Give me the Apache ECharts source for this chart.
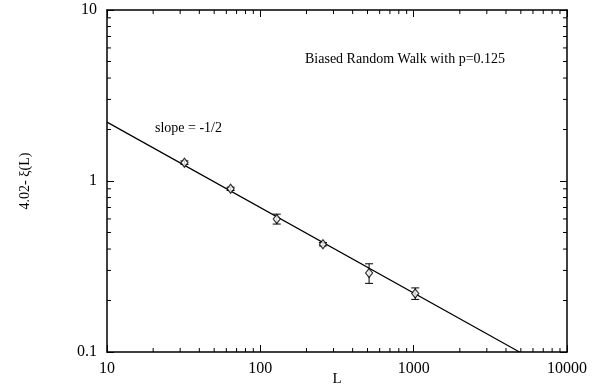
<!DOCTYPE html>
<html><head><meta charset="utf-8">
<script src="https://cdn.jsdelivr.net/npm/echarts@6/dist/echarts.min.js"></script>
<style>html,body{margin:0;padding:0;background:#fff}#c{width:599px;height:391px}</style>
</head><body><div id="c"></div>
<script>
const sizes = [32, 64, 128, 256, 512, 1024];
const values = [1.28, 0.90, 0.60, 0.427, 0.29, 0.22];
const errors = [0.03, 0.02, 0.04, 0.01, 0.038, 0.017];
const fitL = [10, 4900];
const fitY = [2.21, 0.1];
const xTickLabels = ['10', '100', '1000', '10000'];
const yTickLabels = ['0.1', '1', '10'];
const xMinorTicks = [20, 30, 40, 50, 60, 70, 80, 90, 200, 300, 400, 500, 600, 700, 800, 900, 2000, 3000, 4000, 5000, 6000, 7000, 8000, 9000];
const yMinorTicks = [0.2, 0.3, 0.4, 0.5, 0.6, 0.7, 0.8, 0.9, 2, 3, 4, 5, 6, 7, 8, 9];

const FONT = 'Liberation Serif';
const chart = echarts.init(document.getElementById('c'), null, {renderer: 'canvas'});
const pts = sizes.map((s, i) => [s, values[i]]);
const bars = sizes.map((s, i) => [s, values[i] - errors[i], values[i] + errors[i]]);
const fit = fitL.map((l, i) => [l, fitY[i]]);
const minorData = xMinorTicks.map(v => [v, 1, 0]).concat(yMinorTicks.map(v => [100, v, 1]));

const axisCommon = {
  type: 'log', logBase: 10,
  axisLine: {show: true, lineStyle: {color: '#000', width: 1.5}},
  axisTick: {show: true, inside: true, length: 7, lineStyle: {color: '#000', width: 1}},
  splitLine: {show: false}
};

chart.setOption({
  animation: false,
  backgroundColor: '#fff',
  grid: {left: 107, right: 32, top: 10, bottom: 39, outerBoundsMode: 'none', containLabel: false},
  xAxis: [
    Object.assign({}, axisCommon, {
      min: 10, max: 10000, position: 'bottom',
      name: 'L', nameLocation: 'middle', nameGap: 27, nameMoveOverlap: false,
      nameTextStyle: {fontFamily: FONT, fontSize: 15, color: '#000', verticalAlign: 'middle'},
      axisLabel: {fontFamily: FONT, fontSize: 16, color: '#000', margin: 9,
        formatter: v => xTickLabels[Math.round(Math.log10(v)) - 1]}
    }),
    Object.assign({}, axisCommon, {min: 10, max: 10000, position: 'top', axisLabel: {show: false}})
  ],
  yAxis: [
    Object.assign({}, axisCommon, {
      min: 0.1, max: 10, position: 'left',
      name: '4.02- ξ(L)', nameLocation: 'middle', nameGap: 75, nameRotate: 90, nameMoveOverlap: false,
      nameTextStyle: {fontFamily: FONT, fontSize: 14, color: '#000'},
      axisLabel: {fontFamily: FONT, fontSize: 16, color: '#000', margin: 10,
        formatter: v => yTickLabels[Math.round(Math.log10(v)) + 1]}
    }),
    Object.assign({}, axisCommon, {min: 0.1, max: 10, position: 'right', axisLabel: {show: false}})
  ],
  series: [
    {
      type: 'custom', data: minorData, z: 5, silent: true,
      renderItem: function (params, api) {
        const st = {stroke: '#000', lineWidth: 1};
        const len = 4;
        if (api.value(2) === 0) {
          const v = api.value(0);
          const b = api.coord([v, 0.1]);
          const t = api.coord([v, 10]);
          return {type: 'group', children: [
            {type: 'line', shape: {x1: b[0], y1: b[1], x2: b[0], y2: b[1] - len}, style: st},
            {type: 'line', shape: {x1: t[0], y1: t[1], x2: t[0], y2: t[1] + len}, style: st}
          ]};
        } else {
          const v = api.value(1);
          const l = api.coord([10, v]);
          const r = api.coord([10000, v]);
          return {type: 'group', children: [
            {type: 'line', shape: {x1: l[0], y1: l[1], x2: l[0] + len, y2: l[1]}, style: st},
            {type: 'line', shape: {x1: r[0], y1: r[1], x2: r[0] - len, y2: r[1]}, style: st}
          ]};
        }
      }
    },
    {
      type: 'line', data: fit, symbol: 'none',
      lineStyle: {color: '#000', width: 1.2}, z: 2
    },
    {
      type: 'custom', data: bars, z: 3,
      renderItem: function (params, api) {
        const x = api.value(0);
        const lo = api.coord([x, api.value(1)]);
        const hi = api.coord([x, api.value(2)]);
        const w = 4;
        const st = {stroke: '#000', lineWidth: 1};
        return {type: 'group', children: [
          {type: 'line', shape: {x1: lo[0], y1: lo[1], x2: hi[0], y2: hi[1]}, style: st},
          {type: 'line', shape: {x1: lo[0] - w, y1: lo[1], x2: lo[0] + w, y2: lo[1]}, style: st},
          {type: 'line', shape: {x1: hi[0] - w, y1: hi[1], x2: hi[0] + w, y2: hi[1]}, style: st}
        ]};
      }
    },
    {
      type: 'scatter', data: pts, symbol: 'diamond', symbolSize: [7, 9], z: 4,
      itemStyle: {color: '#fff', borderColor: '#000', borderWidth: 1.2}
    }
  ],
  graphic: [
    {type: 'text', left: 305, top: 52, style: {text: 'Biased Random Walk with p=0.125', fontFamily: FONT, fontSize: 14, fill: '#000'}},
    {type: 'text', left: 155, top: 121, style: {text: 'slope = -1/2', fontFamily: FONT, fontSize: 14, fill: '#000'}}
  ]
});
</script></body></html>
